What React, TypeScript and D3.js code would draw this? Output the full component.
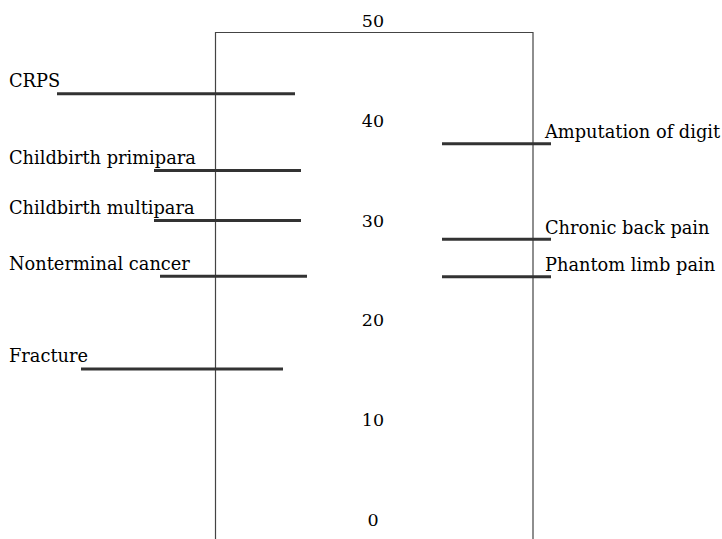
import { useEffect, useRef } from "react";
import * as d3 from "d3";

// pain scores
const leftConditions = ["CRPS", "Childbirth primipara", "Childbirth multipara", "Nonterminal cancer", "Fracture"];
const leftScores = [42.7, 35.0, 30.0, 24.4, 15.1];

const rightConditions = ["Amputation of digit", "Chronic back pain", "Phantom limb pain"];
const rightScores = [37.7, 28.1, 24.35];

const tickValues = [0, 10, 20, 30, 40, 50];

// horizontal extent of each marker line (pixels)
const leftExtents: [number, number][] = [[57, 295], [154, 301], [154, 301], [160, 307], [81, 283]];
const rightExtent: [number, number] = [442, 551];

const W = 722;
const H = 539;
const FONT = "'DejaVu Serif', serif";

export default function App() {
  const svgRef = useRef<SVGSVGElement>(null);

  useEffect(() => {
    if (!svgRef.current) return;
    const svg = d3.select(svgRef.current);
    svg.selectAll("*").remove();

    const y = d3.scaleLinear().domain([0, 50]).range([519.5, 21]);

    // frame
    svg.append("path")
      .attr("d", `M215.5,${H + 2}V32.5H533V${H + 2}`)
      .attr("fill", "none")
      .attr("stroke", "#444")
      .attr("stroke-width", 1.2);

    // scale numbers
    svg.append("g")
      .selectAll("text")
      .data(tickValues)
      .join("text")
      .attr("x", 373)
      .attr("y", d => y(d))
      .attr("dy", "0.36em")
      .attr("text-anchor", "middle")
      .attr("font-family", FONT)
      .attr("font-size", 17.5)
      .attr("fill", "#000")
      .text(d => d);

    const left = leftConditions.map((name, i) => ({ name, score: leftScores[i], ext: leftExtents[i] }));
    const right = rightConditions.map((name, i) => ({ name, score: rightScores[i], ext: rightExtent }));

    const gl = svg.append("g");
    gl.selectAll("line")
      .data(left)
      .join("line")
      .attr("x1", d => d.ext[0])
      .attr("x2", d => d.ext[1])
      .attr("y1", d => y(d.score))
      .attr("y2", d => y(d.score))
      .attr("stroke", "#333")
      .attr("stroke-width", 3);
    gl.selectAll("text")
      .data(left)
      .join("text")
      .attr("x", 9)
      .attr("y", d => y(d.score) - 6.5)
      .attr("font-family", FONT)
      .attr("font-size", 17.8)
      .attr("fill", "#000")
      .text(d => d.name);

    const gr = svg.append("g");
    gr.selectAll("line")
      .data(right)
      .join("line")
      .attr("x1", d => d.ext[0])
      .attr("x2", d => d.ext[1])
      .attr("y1", d => y(d.score))
      .attr("y2", d => y(d.score))
      .attr("stroke", "#333")
      .attr("stroke-width", 3);
    gr.selectAll("text")
      .data(right)
      .join("text")
      .attr("x", 545)
      .attr("y", d => y(d.score) - 5.5)
      .attr("font-family", FONT)
      .attr("font-size", 17.8)
      .attr("fill", "#000")
      .text(d => d.name);
  }, []);

  return (
    <svg
      ref={svgRef}
      width={W}
      height={H}
      style={{ position: "absolute", left: 0, top: 0, background: "#fff" }}
    />
  );
}
